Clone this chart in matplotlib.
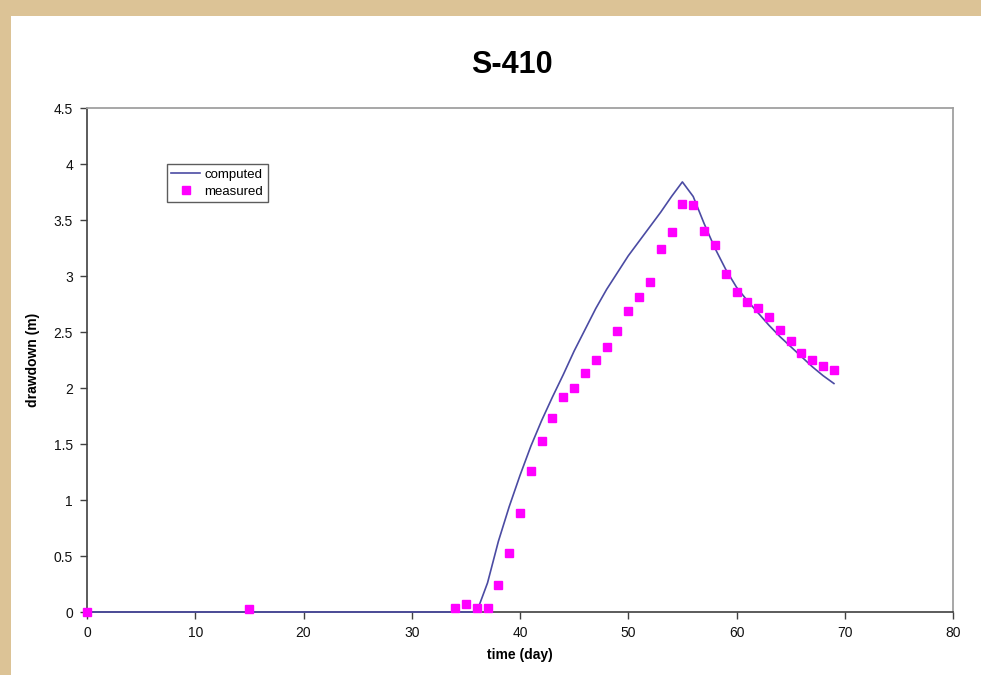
import matplotlib
matplotlib.use("Agg")
from matplotlib import pyplot as plt
from matplotlib.patches import Rectangle

# computed drawdown (daily)
comp_day = list(range(0, 70))
comp_dd = [0.0] * 37 + [
    0.26, 0.63, 0.94, 1.22, 1.48, 1.71, 1.92, 2.12, 2.33, 2.52,
    2.71, 2.88, 3.03, 3.18, 3.31, 3.44, 3.57, 3.71, 3.84, 3.71,
    3.47, 3.25, 3.06, 2.90, 2.78, 2.67, 2.56, 2.46, 2.37, 2.28,
    2.19, 2.11, 2.04]

# measured drawdown
meas_day = [0, 15, 34, 35, 36, 37, 38, 39, 40, 41, 42, 43, 44, 45, 46, 47, 48,
            49, 50, 51, 52, 53, 54, 55, 56, 57, 58, 59, 60, 61, 62, 63, 64,
            65, 66, 67, 68, 69]
meas_dd = [0.0, 0.03, 0.04, 0.07, 0.04, 0.04, 0.24, 0.53, 0.88, 1.26, 1.53,
           1.73, 1.92, 2.00, 2.13, 2.25, 2.37, 2.51, 2.69, 2.81, 2.95, 3.24,
           3.39, 3.64, 3.63, 3.40, 3.28, 3.02, 2.86, 2.77, 2.71, 2.63, 2.52,
           2.42, 2.31, 2.25, 2.20, 2.16]

plt.rcParams['font.family'] = ['Liberation Sans', 'DejaVu Sans']

fig = plt.figure(figsize=(9.81, 6.75), dpi=100)
fig.patch.set_facecolor('#dcc396')
# white slide panel
fig.patches.append(Rectangle((11 / 981, 0), 1 - 11 / 981, 1 - 16 / 675,
                             transform=fig.transFigure, facecolor='white',
                             edgecolor='none', zorder=-10))

ax = fig.add_axes([87 / 981, 1 - 612 / 675, (953 - 87) / 981, (612 - 108) / 675])
ax.set_zorder(5)
ax.set_facecolor('white')

ax.plot(comp_day, comp_dd, color='#4b4ba3', lw=1.2, label='computed', zorder=3,
        clip_on=False)
ax.plot(meas_day, meas_dd, ls='none', marker='s', ms=5.5, color='#ff00ff',
        label='measured', zorder=4, clip_on=False)

ax.set_xlim(0, 80)
ax.set_ylim(0, 4.5)
ax.set_xticks(range(0, 81, 10))
ax.set_yticks([0, 0.5, 1, 1.5, 2, 2.5, 3, 3.5, 4, 4.5])
ax.set_yticklabels(['0', '0.5', '1', '1.5', '2', '2.5', '3', '3.5', '4', '4.5'])

for s in ['top', 'right']:
    ax.spines[s].set_color('#a0a0a0')
    ax.spines[s].set_linewidth(1.3)
for s in ['left', 'bottom']:
    ax.spines[s].set_color('#404040')
    ax.spines[s].set_linewidth(1.2)
ax.tick_params(direction='out', length=5, width=1, color='#404040',
               labelsize=10, labelcolor='#111111', pad=5)

ax.set_xlabel('time (day)', fontsize=10, fontweight='bold', labelpad=6)
ax.set_ylabel('drawdown (m)', fontsize=10, fontweight='bold', labelpad=10)

fig.text(512 / 981, 1 - 65 / 675, 'S-410', ha='center', va='center',
         fontsize=22, fontweight='bold')

leg = ax.legend(loc='upper left', bbox_to_anchor=(0.092, 0.889), fontsize=9.5,
                frameon=True, fancybox=False, shadow=False, borderpad=0.35,
                handlelength=2.2, handletextpad=0.3, labelspacing=0.35,
                borderaxespad=0)
leg.get_frame().set_edgecolor('#333333')
leg.get_frame().set_linewidth(1.0)

fig.savefig('out.png', dpi=100, facecolor=fig.get_facecolor())
